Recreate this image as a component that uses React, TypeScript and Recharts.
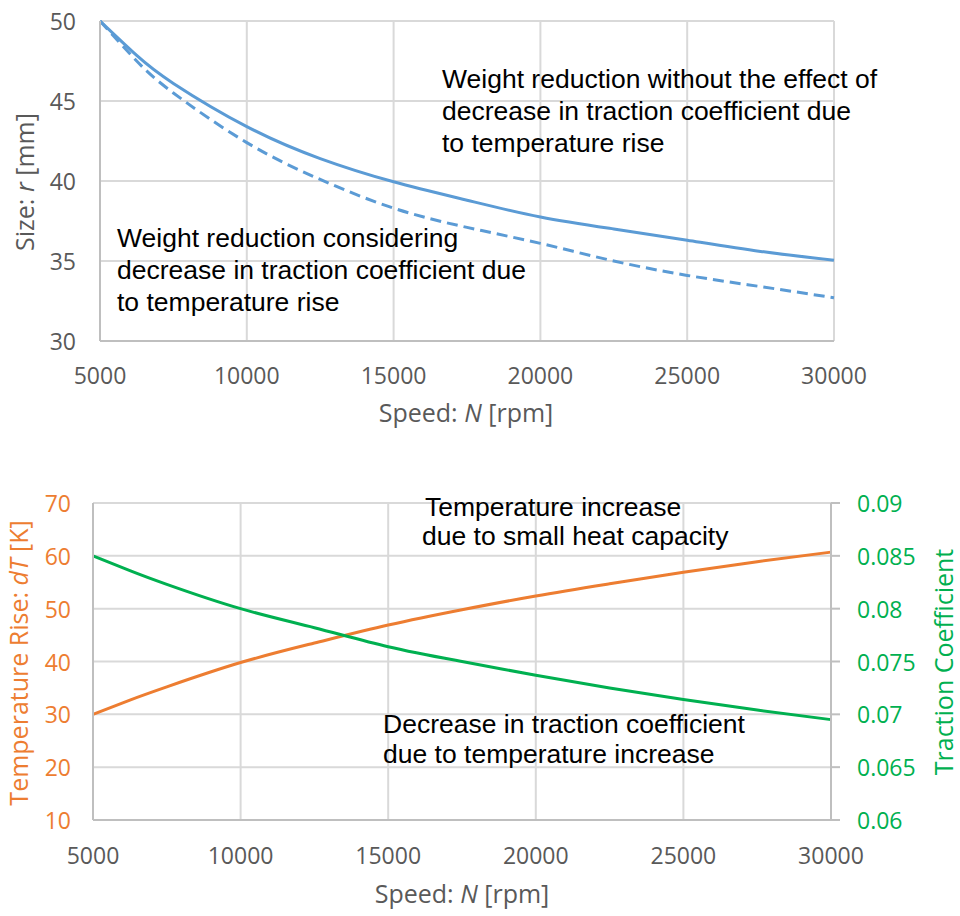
import React from 'react';
import { LineChart, Line, XAxis, YAxis, CartesianGrid } from 'recharts';

// Rotational speed samples [rpm]
const speeds = [5000, 6250, 7500, 10000, 12500, 15000, 17500, 20000, 22500, 25000, 27500, 30000];

// Roller size r [mm] without the traction-coefficient drop
const sizeNoTempEffect = [50, 47.85, 46.1, 43.4, 41.4, 39.95, 38.8, 37.75, 37.0, 36.3, 35.6, 35.05];
// Roller size r [mm] including the traction-coefficient drop
const sizeWithTempEffect = [50, 47.5, 45.5, 42.4, 40.1, 38.3, 37.1, 36.1, 35.0, 34.1, 33.4, 32.7];

// Temperature rise dT [K]
const tempRise = [30, 32.7, 35.2, 39.8, 43.5, 46.9, 49.8, 52.4, 54.7, 56.9, 58.9, 60.7];
// Traction coefficient
const tractionCoef = [0.085, 0.0836, 0.0823, 0.08, 0.0782, 0.0764, 0.075, 0.0737, 0.0725, 0.0714, 0.0704, 0.0695];

const speedTicks = [5000, 10000, 15000, 20000, 25000, 30000];
const sizeTicks = [30, 35, 40, 45, 50];
const tempTicks = [10, 20, 30, 40, 50, 60, 70];
const tractionTicks = [0.06, 0.065, 0.07, 0.075, 0.08, 0.085, 0.09];

const sizeData = speeds.map((n, i) => ({
  n,
  plain: sizeNoTempEffect[i],
  withTemp: sizeWithTempEffect[i],
}));

const heatData = speeds.map((n, i) => ({
  n,
  dT: tempRise[i],
  mu: tractionCoef[i],
}));

const AXIS_FONT = "'Open Sans', 'Noto Sans', sans-serif";
const NOTE_FONT = "'Liberation Sans', Arial, sans-serif";
const GRAY = '#595959';
const GRID = '#D9D9D9';
const AXIS_LINE = '#BFBFBF';
const BLUE = '#5B9BD5';
const ORANGE = '#ED7D31';
const GREEN = '#00B050';

const makeXTick = (dy: number) => (props: any) => (
  <text
    x={props.x}
    y={props.y + dy}
    textAnchor="middle"
    dominantBaseline="central"
    fontFamily={AXIS_FONT}
    fontSize={23}
    fill={GRAY}
  >
    {props.payload.value}
  </text>
);

const makeYTick = (dx: number, color: string, anchor: 'start' | 'end') => (props: any) => (
  <text
    x={props.x + dx}
    y={props.y}
    textAnchor={anchor}
    dominantBaseline="central"
    fontFamily={AXIS_FONT}
    fontSize={23}
    fill={color}
  >
    {String(props.payload.value)}
  </text>
);

const TopChart = () => (
  <LineChart
    width={960}
    height={450}
    data={sizeData}
    margin={{ top: 21, right: 126, bottom: 0, left: 0 }}
  >
    <CartesianGrid stroke={GRID} strokeWidth={2} />
    <XAxis
      dataKey="n"
      type="number"
      domain={[5000, 30000]}
      ticks={speedTicks}
      height={109}
      tickSize={0}
      tickMargin={0}
      tickLine={false}
      axisLine={{ stroke: AXIS_LINE, strokeWidth: 2 }}
      tick={makeXTick(34)}
    />
    <YAxis
      type="number"
      domain={[30, 50]}
      ticks={sizeTicks}
      width={100}
      tickSize={0}
      tickMargin={0}
      tickLine={false}
      axisLine={{ stroke: AXIS_LINE, strokeWidth: 2 }}
      tick={makeYTick(-24, GRAY, 'end')}
    />
    <Line
      type="natural"
      dataKey="withTemp"
      stroke={BLUE}
      strokeWidth={3}
      strokeDasharray="11 6"
      dot={false}
      isAnimationActive={false}
    />
    <Line
      type="natural"
      dataKey="plain"
      stroke={BLUE}
      strokeWidth={3}
      dot={false}
      isAnimationActive={false}
    />
  </LineChart>
);

const BottomChart = () => (
  <LineChart
    width={960}
    height={456}
    data={heatData}
    margin={{ top: 43, right: 0, bottom: 0, left: 0 }}
  >
    <CartesianGrid yAxisId="temp" stroke={GRID} strokeWidth={2} />
    <XAxis
      dataKey="n"
      type="number"
      domain={[5000, 30000]}
      ticks={speedTicks}
      height={96}
      tickSize={0}
      tickMargin={0}
      tickLine={false}
      axisLine={{ stroke: AXIS_LINE, strokeWidth: 2 }}
      tick={makeXTick(35)}
    />
    <YAxis
      yAxisId="temp"
      type="number"
      domain={[10, 70]}
      ticks={tempTicks}
      width={93}
      tickSize={0}
      tickMargin={0}
      tickLine={false}
      axisLine={{ stroke: AXIS_LINE, strokeWidth: 2 }}
      tick={makeYTick(-22, ORANGE, 'end')}
    />
    <YAxis
      yAxisId="mu"
      orientation="right"
      type="number"
      domain={[0.06, 0.09]}
      ticks={tractionTicks}
      width={129}
      tickSize={9}
      tickMargin={0}
      tickLine={{ stroke: AXIS_LINE, strokeWidth: 2 }}
      axisLine={{ stroke: AXIS_LINE, strokeWidth: 2 }}
      tick={makeYTick(17, GREEN, 'start')}
    />
    <Line
      yAxisId="temp"
      type="natural"
      dataKey="dT"
      stroke={ORANGE}
      strokeWidth={3}
      dot={false}
      isAnimationActive={false}
    />
    <Line
      yAxisId="mu"
      type="natural"
      dataKey="mu"
      stroke={GREEN}
      strokeWidth={3}
      dot={false}
      isAnimationActive={false}
    />
  </LineChart>
);

const Note = ({ x, y, lines, gap }: { x: number[]; y: number; lines: string[]; gap: number }) => (
  <g fontFamily={NOTE_FONT} fontSize={26.5} fill="#000">
    {lines.map((t, i) => (
      <text key={i} x={x[i]} y={y + i * gap}>
        {t}
      </text>
    ))}
  </g>
);

const Titles = () => (
  <svg
    width={960}
    height={916}
    style={{ position: 'absolute', left: 0, top: 0, pointerEvents: 'none' }}
  >
    <g fontFamily={AXIS_FONT} fontSize={25} textAnchor="middle" dominantBaseline="central">
      <text x={466} y={412} fill={GRAY}>
        Speed: <tspan fontStyle="italic">N</tspan> [rpm]
      </text>
      <text x={24} y={182} fill={GRAY} transform="rotate(-90 24 182)">
        Size: <tspan fontStyle="italic">r</tspan> [mm]
      </text>
      <text x={462} y={893} fill={GRAY}>
        Speed: <tspan fontStyle="italic">N</tspan> [rpm]
      </text>
      <text x={18} y={663} fill={ORANGE} transform="rotate(-90 18 663)">
        Temperature Rise: <tspan fontStyle="italic">dT</tspan> [K]
      </text>
      <text x={943} y={662} fill={GREEN} transform="rotate(-90 943 662)">
        Traction Coefficient
      </text>
    </g>
    <Note
      x={[442, 442, 442]}
      y={88}
      gap={32}
      lines={[
        'Weight reduction without the effect of',
        'decrease in traction coefficient due',
        'to temperature rise',
      ]}
    />
    <Note
      x={[117, 117, 117]}
      y={247}
      gap={32}
      lines={[
        'Weight reduction considering',
        'decrease in traction coefficient due',
        'to temperature rise',
      ]}
    />
    <Note
      x={[425, 422]}
      y={516}
      gap={29}
      lines={['Temperature increase', 'due to small heat capacity']}
    />
    <Note
      x={[383, 383]}
      y={733}
      gap={30}
      lines={['Decrease in traction coefficient', 'due to temperature increase']}
    />
  </svg>
);

export default function App() {
  return (
    <div style={{ position: 'absolute', left: 0, top: 0, width: 960, height: 916, background: '#fff' }}>
      <div style={{ position: 'absolute', left: 0, top: 0 }}>
        <TopChart />
      </div>
      <div style={{ position: 'absolute', left: 0, top: 460 }}>
        <BottomChart />
      </div>
      <Titles />
    </div>
  );
}
